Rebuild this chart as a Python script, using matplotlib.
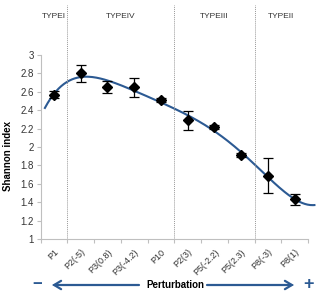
import numpy as np
import matplotlib
matplotlib.use("Agg")
import matplotlib.pyplot as plt
from matplotlib.patches import FancyArrowPatch

categories = ["P1", "P2(-5)", "P3(0.8)", "P3(-4.2)", "P10", "P2(3)", "P5(-2.2)", "P5(2.3)", "P8(-3)", "P8(1)"]
shannon = [2.57, 2.80, 2.655, 2.65, 2.51, 2.29, 2.22, 1.91, 1.69, 1.43]
errors = [0.035, 0.095, 0.065, 0.105, 0.02, 0.10, 0.02, 0.02, 0.19, 0.06]
type_labels = ["TYPEI", "TYPEIV", "TYPEIII", "TYPEII"]
type_bounds = [0, 1, 5, 8, 10]
yticks = [1, 1.2, 1.4, 1.6, 1.8, 2, 2.2, 2.4, 2.6, 2.8, 3]

plt.rcParams['font.family'] = ['Liberation Sans', 'DejaVu Sans']
fig = plt.figure(figsize=(3.2, 2.96), dpi=100)
ax = fig.add_axes([0.127, 0.1926, 0.8355, 0.6216])

x = np.arange(len(categories))
ax.errorbar(x, shannon, yerr=errors, fmt='D', color='black', ms=5,
            ecolor='black', elinewidth=0.9, capsize=3.5, capthick=0.9, zorder=3)

# polynomial trendline fitted to the data
coef = np.polyfit(x + 1, shannon, 5)
xs = np.linspace(-0.34, 9.74, 200)
ax.plot(xs, np.polyval(coef, xs + 1), color='#2C5A93', lw=1.5, clip_on=False, zorder=2)

ax.set_xlim(-0.5, 9.5)
ax.set_ylim(1, 3)
ax.set_yticks(yticks)
ax.set_yticklabels([f"{v:g}" for v in yticks], fontsize=7, color='#333333')
ax.set_xticks(np.arange(-0.5, 10, 1))
ax.set_xticklabels([])
ax.set_xticks(x, minor=True)
ax.set_xticklabels(categories, minor=True, rotation=45, ha='right', rotation_mode='anchor',
                   fontsize=6.5, color='#333333')
ax.tick_params(axis='x', which='minor', length=0, pad=6)
ax.tick_params(axis='x', which='major', length=3, color='#BFBFBF')
ax.tick_params(axis='y', length=3, color='#BFBFBF', pad=2)
for s in ['top', 'right']:
    ax.spines[s].set_visible(False)
for s in ['left', 'bottom']:
    ax.spines[s].set_color('#BFBFBF')
ax.set_ylabel("Shannon index", fontsize=7, fontweight='bold')
ax.yaxis.set_label_coords(-0.105, 0.45)

for b in type_bounds[1:-1]:
    ax.plot([b - 0.5, b - 0.5], [1, 3.54], color='#999999', lw=0.7, ls=(0, (1, 1)), clip_on=False)
for i, lab in enumerate(type_labels):
    cx = (type_bounds[i] + type_bounds[i + 1]) / 2 - 0.5
    ax.text(cx, 3.42, lab, ha='center', va='center', fontsize=6, color='#333333')

blue = '#2C5A93'
yy = 285
def fx(px):
    return px / 320
fy = 1 - yy / 296
fig.text(fx(37), fy, "\u2212", ha='center', va='center', fontsize=12, color=blue, fontweight='bold')
fig.text(fx(308), fy, "+", ha='center', va='center', fontsize=13, color=blue, fontweight='bold')
fig.text(fx(175), fy, "Perturbation", ha='center', va='center', fontsize=7, fontweight='bold')
fig.patches.append(FancyArrowPatch((fx(139), fy), (fx(52), fy), transform=fig.transFigure,
                   arrowstyle='->,head_length=5,head_width=3', color=blue, lw=1.6,
                   shrinkA=0, shrinkB=0, joinstyle='miter'))
fig.patches.append(FancyArrowPatch((fx(207), fy), (fx(294), fy), transform=fig.transFigure,
                   arrowstyle='->,head_length=5,head_width=3', color=blue, lw=1.6,
                   shrinkA=0, shrinkB=0, joinstyle='miter'))

fig.savefig("out.png", dpi=100)
